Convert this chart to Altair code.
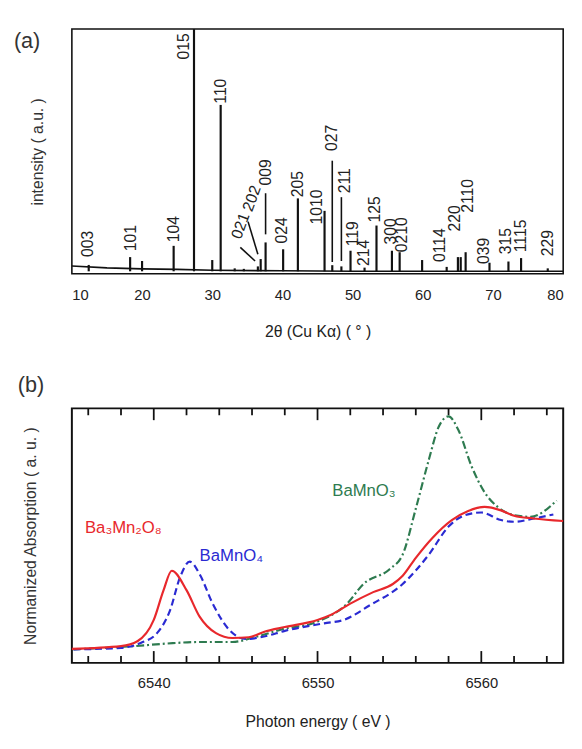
import altair as alt
import pandas as pd

FONT = "Liberation Sans"

# ---------------- (a) XRD pattern ----------------
peak_pos = [12.4, 18.3, 20.0, 24.5, 27.4, 30.0, 31.2, 33.2, 34.5, 36.5, 36.9, 37.6,
            40.1, 42.2, 46.0, 47.1, 48.4, 49.7, 51.7, 53.4, 55.6, 56.7, 59.9, 63.4,
            65.0, 65.4, 66.1, 69.5, 72.2, 74.0, 77.8]
peak_int = [3.6, 6.8, 5.2, 11.4, 100, 5.6, 69, 2.2, 2.0, 3.0, 6.0, 12.8,
            10.0, 30.8, 25.7, 3.5, 3.0, 9.4, 2.5, 19.7, 9.4, 8.8, 5.6, 2.8,
            6.8, 6.8, 8.8, 4.5, 5.0, 6.4, 2.2]
base_x = [10, 15, 20, 25, 30, 40, 50, 80]
base_y = [3.2, 2.4, 2.0, 1.8, 1.4, 1.2, 1.0, 1.0]

lab_text = ["003", "101", "104", "015", "110", "009", "024", "205", "1010", "027",
            "211", "119", "214", "125", "300", "0210", "0114", "220", "2110", "039",
            "315", "1115", "229"]
lab_x = [12.3, 18.45, 24.6, 26.0, 31.3, 37.7, 40.0, 42.2, 45.0, 47.1,
         48.9, 50.1, 51.7, 53.2, 55.5, 57.1, 62.5, 64.6, 66.5, 68.8,
         71.9, 74.0, 77.9]
lab_y = [6.8, 9.2, 12.9, 87.6, 69.5, 36.1, 12.4, 31.3, 20.1, 50.2,
         32.9, 11.2, 3.2, 20.9, 12.0, 8.8, 4.8, 17.3, 24.9, 4.0,
         8.0, 8.8, 7.2]
tilt_text = ["021", "202"]
tilt_x = [33.4, 35.0]
tilt_y = [14.5, 25.7]

lead_x = [34.0, 35.1, 37.6, 47.1, 48.4]
lead_x2 = [36.1, 36.5, 37.6, 47.1, 48.4]
lead_y = [10.8, 21.3, 32.9, 46.2, 31.3]
lead_y2 = [5.2, 8.0, 16.1, 4.8, 5.2]

xrd_ticks = [10, 20, 30, 40, 50, 60, 70, 80]

# ---------------- (b) XANES ----------------
red_e = [6535.0, 6538.0, 6539.0, 6540.0, 6540.6, 6541.1, 6542.0, 6542.8, 6543.8, 6544.8,
         6545.8, 6546.8, 6548.0, 6550.0, 6550.8, 6552.0, 6553.4, 6554.6, 6555.2, 6556.0,
         6557.0, 6558.2, 6559.2, 6560.2, 6561.2, 6562.0, 6563.2, 6565.0]
red_v = [0.002, 0.021, 0.055, 0.205, 0.414, 0.550, 0.414, 0.228, 0.112, 0.078,
         0.083, 0.124, 0.155, 0.205, 0.239, 0.319, 0.400, 0.457, 0.515, 0.641,
         0.779, 0.906, 0.970, 0.998, 0.974, 0.936, 0.917, 0.899]
blue_e = [6535.1, 6538.0, 6539.2, 6540.2, 6541.0, 6541.6, 6542.2, 6542.8, 6543.6, 6544.6,
          6545.6, 6546.8, 6548.0, 6550.4, 6551.6, 6553.2, 6555.2, 6556.8, 6558.0, 6559.0,
          6560.0, 6561.2, 6562.0, 6563.2, 6564.4]
blue_v = [-0.002, 0.009, 0.043, 0.112, 0.274, 0.503, 0.614, 0.526, 0.319, 0.136,
          0.071, 0.090, 0.128, 0.181, 0.205, 0.308, 0.457, 0.664, 0.860, 0.940,
          0.959, 0.906, 0.894, 0.917, 0.945]
green_e = [6535.1, 6538.8, 6540.8, 6542.8, 6544.8, 6546.2, 6547.8, 6550.0, 6551.8, 6552.8,
           6554.4, 6555.2, 6556.0, 6556.8, 6557.4, 6558.0, 6558.6, 6559.4, 6560.2, 6561.0,
           6562.0, 6563.0, 6564.6]
green_v = [-0.002, 0.021, 0.039, 0.050, 0.050, 0.085, 0.138, 0.193, 0.319, 0.457,
           0.561, 0.664, 0.986, 1.331, 1.561, 1.634, 1.538, 1.285, 1.101, 0.998,
           0.940, 0.929, 1.043]
series_names = ["Ba\u2083Mn\u2082O\u2088", "BaMnO\u2084", "BaMnO\u2083"]
series_colors = ["#e8282c", "#2a2ad2", "#2e7b50"]
name_x = [6535.8, 6542.8, 6550.9]
name_y = [0.814, 0.62, 1.076]
major_ticks = [6540, 6550, 6560]
minor_ticks = [6536, 6538, 6542, 6544, 6546, 6548, 6552, 6554, 6556, 6558, 6562, 6564]

# ================= top panel =================
W1, H1 = 500, 249
xs1 = alt.Scale(domain=[10, 80], nice=False, zero=False)
ys1 = alt.Scale(domain=[0, 100], nice=False)
xax1 = alt.Axis(values=xrd_ticks, ticks=False, domain=False, grid=False,
                labelPadding=14, labelFontSize=15, labelFont=FONT, labelColor="#222",
                title="2θ (Cu Kα)  ( ° )", titleFont=FONT, titleFontSize=16,
                titleFontWeight="normal", titleColor="#222", titlePadding=22)
yax1 = alt.Axis(labels=False, ticks=False, domain=False, grid=False,
                title="intensity ( a.u. )", titleFont=FONT, titleFontSize=16,
                titleFontWeight="normal", titleColor="#333", titlePadding=27)

def X1(f):
    return alt.X(f, type="quantitative", scale=xs1, axis=xax1)

def Y1(f):
    return alt.Y(f, type="quantitative", scale=ys1, axis=yax1)

df_base = pd.DataFrame({"x": base_x, "y": base_y})
df_peaks = pd.DataFrame({"x": peak_pos, "y": peak_int})
df_peaks["y0"] = 1.0
df_lead = pd.DataFrame({"x": lead_x, "x2": lead_x2, "y": lead_y, "y2": lead_y2})
df_lab = pd.DataFrame({"t": lab_text, "x": lab_x, "y": lab_y})
df_tilt = pd.DataFrame({"t": tilt_text, "x": tilt_x, "y": tilt_y})

baseline = alt.Chart(df_base).mark_line(color="#111", strokeWidth=1.6).encode(
    x=X1("x"), y=Y1("y"))
peaks = alt.Chart(df_peaks).mark_rule(color="#111", strokeWidth=2.2).encode(
    x=X1("x"), y=Y1("y"), y2="y0")
leads = alt.Chart(df_lead).mark_rule(color="#111", strokeWidth=1.6).encode(
    x=X1("x"), x2="x2", y=Y1("y"), y2="y2")
labels = alt.Chart(df_lab).mark_text(angle=270, align="left", baseline="middle",
                                     font=FONT, fontSize=16, color="#222").encode(
    x=X1("x"), y=Y1("y"), text="t")
tilted = alt.Chart(df_tilt).mark_text(angle=290, align="left", baseline="middle",
                                      font=FONT, fontSize=16, color="#222").encode(
    x=X1("x"), y=Y1("y"), text="t")
panel_a = alt.Chart(pd.DataFrame({"t": ["(a)"]})).mark_text(
    align="left", baseline="middle", font=FONT, fontSize=22, color="#333").encode(
    x=alt.value(-59), y=alt.value(12), text="t")

top = alt.layer(baseline, peaks, leads, labels, tilted, panel_a).properties(
    width=W1, height=H1,
    view=alt.ViewBackground(stroke="#111", strokeWidth=1.6))

# ================= bottom panel =================
W2, H2 = 500, 259
Y_LO, Y_HI = -0.0966, 1.69
xs2 = alt.Scale(domain=[6535, 6565], nice=False, zero=False)
ys2 = alt.Scale(domain=[Y_LO, Y_HI], nice=False, zero=False)
xax2 = alt.Axis(values=major_ticks, ticks=False, domain=False, grid=False, format="d",
                labelPadding=13, labelFontSize=15, labelFont=FONT, labelColor="#222",
                title="Photon energy ( eV )", titleFont=FONT, titleFontSize=16,
                titleFontWeight="normal", titleColor="#222", titlePadding=24)
yax2 = alt.Axis(labels=False, ticks=False, domain=False, grid=False,
                title="Normanized Absorption ( a. u. )", titleFont=FONT, titleFontSize=16,
                titleFontWeight="normal", titleColor="#333", titlePadding=34)

def X2(f):
    return alt.X(f, type="quantitative", scale=xs2, axis=xax2)

def Y2(f):
    return alt.Y(f, type="quantitative", scale=ys2, axis=yax2)

rows = []
for name, es, vs in zip(series_names, [red_e, blue_e, green_e], [red_v, blue_v, green_v]):
    for i, (e, v) in enumerate(zip(es, vs)):
        rows.append({"s": name, "seg": name, "o": i, "e": e, "v": v})

# inward frame ticks as short two-point segments (length in px -> data units)
per_px = (Y_HI - Y_LO) / H2
for group, ln in [(major_ticks, 12), (minor_ticks, 7)]:
    for e in group:
        for edge, sign in [(Y_HI, -1), (Y_LO, 1)]:
            sid = f"t{e}_{sign}"
            rows.append({"s": "tick", "seg": sid, "o": 0, "e": float(e), "v": edge})
            rows.append({"s": "tick", "seg": sid, "o": 1, "e": float(e),
                         "v": edge + sign * ln * per_px})
df_xas = pd.DataFrame(rows)

def curve(name, color, dash, width=2.2):
    kw = dict(color=color, strokeWidth=width)
    if name != "tick":
        kw["interpolate"] = "monotone"
    if dash:
        kw["strokeDash"] = dash
    return alt.Chart(df_xas).transform_filter(alt.datum.s == name).mark_line(**kw).encode(
        x=X2("e"), y=Y2("v"), detail="seg:N", order="o:Q")

tick_lines = curve("tick", "#111111", None, 1.8)
green_line = curve(series_names[2], series_colors[2], [8, 3, 2, 3])
blue_line = curve(series_names[1], series_colors[1], [7, 4])
red_line = curve(series_names[0], series_colors[0], None)

df_names = pd.DataFrame({"t": series_names, "x": name_x, "y": name_y, "c": series_colors})
names = alt.Chart(df_names).mark_text(align="left", baseline="alphabetic", font=FONT,
                                      fontSize=17).encode(
    x=X2("x"), y=Y2("y"), text="t", color=alt.Color("c:N", scale=None))

panel_b = alt.Chart(pd.DataFrame({"t": ["(b)"]})).mark_text(
    align="left", baseline="middle", font=FONT, fontSize=22, color="#333").encode(
    x=alt.value(-55), y=alt.value(-24), text="t")

bottom = alt.layer(tick_lines, green_line, blue_line, red_line, names, panel_b).properties(
    width=W2, height=H2,
    view=alt.ViewBackground(stroke="#111", strokeWidth=2))

chart = alt.vconcat(top, bottom, spacing=33).properties(
    padding={"left": 5, "top": 13, "right": 5, "bottom": 0},
    background="white")

chart.save("out.html", embed_options={"renderer": "svg", "actions": False})
